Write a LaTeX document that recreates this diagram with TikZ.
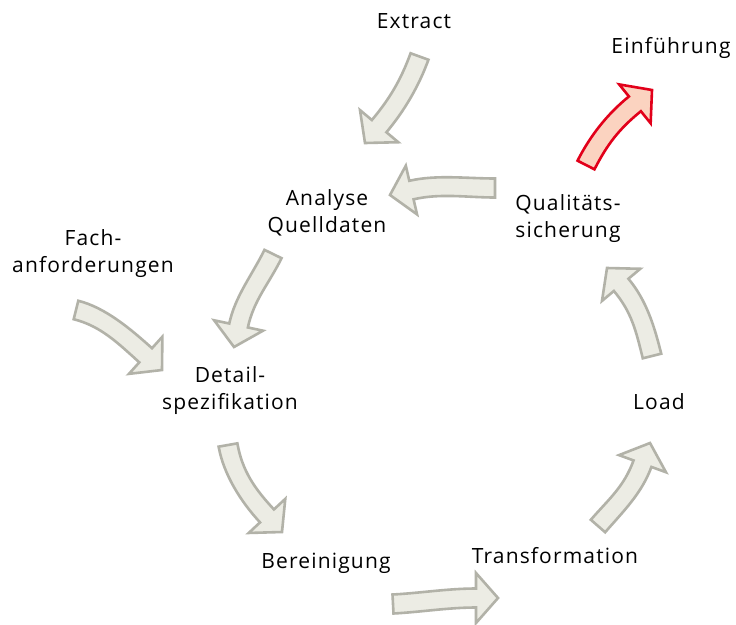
\documentclass[tikz,border=0pt]{standalone}
\usepackage{fontspec}
\setmainfont{Open Sans}[LetterSpace=5.5]
\usetikzlibrary{calc}
\definecolor{agray}{HTML}{ECECE4}
\definecolor{agrayline}{HTML}{B2B2A8}
\definecolor{ared}{HTML}{FBD3C0}
\definecolor{aredline}{HTML}{E2001A}
\def\asw{9.5}
\def\ahw{25}
\def\ahl{22}
\def\actl{28}
\newcommand\barrow[5]{%
  \coordinate (bt) at #2;
  \coordinate (bp) at #4;
  \coordinate (bh) at ($(bp)-(#5:\ahl)$);
  \draw[#1] ($(bt)+(#3+90:\asw)$)
    .. controls ($(bt)+(#3+90:\asw)+(#3:\actl)$) and ($(bh)+(#5+90:\asw)-(#5:\actl)$) .. ($(bh)+(#5+90:\asw)$)
    -- ($(bh)+(#5+90:\ahw)$) -- (bp) -- ($(bh)+(#5-90:\ahw)$) -- ($(bh)+(#5-90:\asw)$)
    .. controls ($(bh)+(#5-90:\asw)-(#5:\actl)$) and ($(bt)+(#3-90:\asw)+(#3:\actl)$) .. ($(bt)+(#3-90:\asw)$)
    -- cycle;}
\tikzset{
  garrow/.style={fill=agray, draw=agrayline, line width=2.6pt, line join=miter},
  rarrow/.style={fill=ared, draw=aredline, line width=2.6pt, line join=miter},
  lbl/.style={font=\fontsize{21}{27}\selectfont, align=center, inner sep=0pt, text=black}
}
\begin{document}
\begin{tikzpicture}[x=1pt,y=-1pt]
\useasboundingbox[fill=white] (0,0) rectangle (736,624);
% arrows
\barrow{garrow}{(419.5,56.5)}{110}{(365,143)}{130}
\barrow{garrow}{(273,254)}{116}{(234,347)}{102}
\barrow{garrow}{(76,310)}{14}{(162,370)}{42}
\barrow{garrow}{(228,445)}{80}{(282,532)}{47}
\barrow{garrow}{(393,604)}{-3}{(498,598)}{0}
\barrow{garrow}{(598,526)}{-49}{(650,443)}{-70}
\barrow{garrow}{(652,356)}{-104}{(607,268)}{-130}
\barrow{garrow}{(495,188)}{180}{(390,195)}{167}
\barrow{rarrow}{(586,165)}{-63}{(652,90)}{-39}
% labels
\node[lbl] (extract) at (414,21) {Extract};
\node[lbl] (einf) at (671,48) {Einführung};
\node[lbl] (analyse) at (327,213) {Analyse\\Quelldaten};
\node[lbl] (qual) at (568,219) {Qualitäts-\\sicherung};
\node[lbl] (fach) at (93,254) {Fach-\\anforderungen};
\node[lbl] (detail) at (230,391) {Detail-\\spezifikation};
\node[lbl] (load) at (659,402) {Load};
\node[lbl] (ber) at (326,563) {Bereinigung};
\node[lbl] (trans) at (555,556) {Transformation};
\end{tikzpicture}
\end{document}
